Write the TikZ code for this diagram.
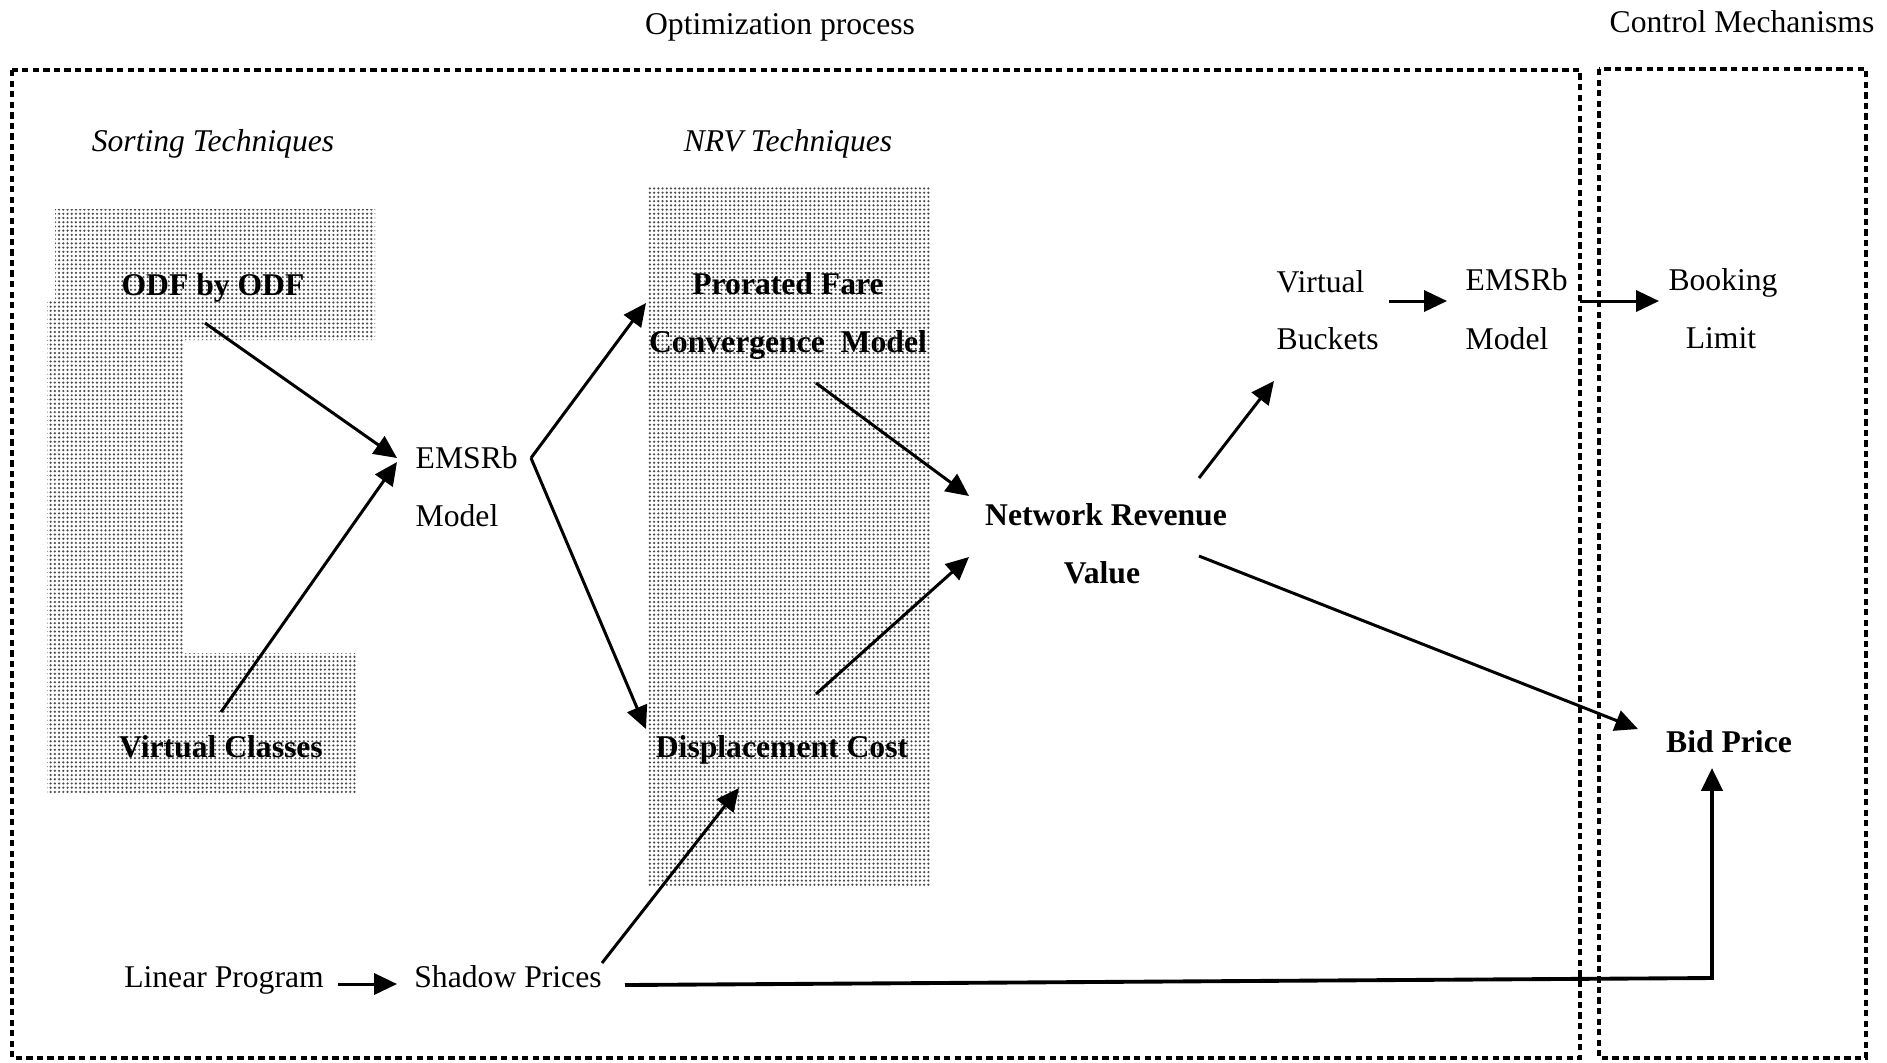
\documentclass[tikz,border=0pt]{standalone}
\usepackage{fontspec}
\setmainfont{Liberation Serif}
\usetikzlibrary{arrows.meta,patterns.meta}
\begin{document}
\begin{tikzpicture}[x=0.01cm,y=-0.01cm,
  lbl/.style={font=\fontsize{9}{11}\selectfont, inner sep=0pt, anchor=base},
  boldlbl/.style={lbl, font=\fontsize{9}{11}\selectfont\bfseries},
  itallbl/.style={lbl, font=\fontsize{9}{11}\selectfont\itshape},
  arr/.style={line width=0.85pt, -{Triangle[length=6.5pt,width=6pt]}},
  frameline/.style={line width=0.9pt, dash pattern=on 1.8pt off 1.2pt},
  stipple/.style={pattern={Dots[distance=1.2pt,radius=0.35pt]}, pattern color=black!70}]
\useasboundingbox (0,0) rectangle (1887,1062);

% stippled backgrounds
\fill[stipple] (55,209) -- (375,209) -- (375,340) -- (183,340) -- (183,653)
  -- (357,653) -- (357,794) -- (47,794) -- (47,300) -- (55,300) -- cycle;
\fill[stipple] (647,186) rectangle (930,886);

% frames
\draw[frameline] (12,70) rectangle (1580,1058);
\draw[frameline] (1599,69) rectangle (1866,1058);

% titles
\node[lbl] (opt) at (780,34) {Optimization process};
\node[lbl] (ctl) at (1742,32) {Control Mechanisms};
\node[itallbl] (sort) at (213,151) {Sorting Techniques};
\node[itallbl] (nrvt) at (788,151) {NRV Techniques};

% nodes
\node[boldlbl] (odf) at (213,295) {ODF by ODF};
\node[boldlbl] (vc) at (221,757) {Virtual Classes};
\node[lbl, anchor=base west] (emsrb1) at (415,468) {EMSRb};
\node[lbl, anchor=base west] (model1) at (415,526) {Model};
\node[boldlbl] (prorated) at (788,294) {Prorated Fare};
\node[boldlbl] (conv) at (788,352) {Convergence\ \ Model};
\node[boldlbl] (disp) at (782,757) {Displacement Cost};
\node[boldlbl] (nrv) at (1106,525) {Network Revenue};
\node[boldlbl] (value) at (1102,583) {Value};
\node[lbl, anchor=base west] (virtual) at (1276,292) {Virtual};
\node[lbl, anchor=base west] (buckets) at (1276,349) {Buckets};
\node[lbl, anchor=base west] (emsrb2) at (1465,290) {EMSRb};
\node[lbl, anchor=base west] (model2) at (1465,349) {Model};
\node[lbl] (booking) at (1723,290) {Booking};
\node[lbl] (limit) at (1721,348) {Limit};
\node[boldlbl] (bid) at (1729,752) {Bid Price};
\node[lbl] (lp) at (224,987) {Linear Program};
\node[lbl] (shadow) at (508,987) {Shadow Prices};

% connectors
\draw[arr] ([shift={(-8,28)}]odf.base) -- ([shift={(-18,-10)}]emsrb1.base west);
\draw[arr] ([shift={(0,-45)}]vc.base) -- ([shift={(-18,-6)}]emsrb1.base west);
\draw[arr] ([shift={(116,-10)}]emsrb1.base west) -- ([shift={(-142,9)}]prorated.base);
\draw[arr] ([shift={(116,-10)}]emsrb1.base west) -- ([shift={(-136,-28)}]disp.base);
\draw[arr] ([shift={(28,31)}]conv.base) -- ([shift={(-137,-29)}]nrv.base);
\draw[arr] ([shift={(34,-63)}]disp.base) -- ([shift={(-137,32)}]nrv.base);
\draw[arr] ([shift={(93,-47)}]nrv.base) -- ([shift={(-2,32)}]buckets.base west);
\draw[arr] ([shift={(93,31)}]nrv.base) -- ([shift={(-91,-23)}]bid.base);
\draw[arr] ([shift={(113,9)}]virtual.base west) -- ([shift={(-18,11)}]emsrb2.base west);
\draw[arr] ([shift={(115,11)}]emsrb2.base west) -- ([shift={(-64,11)}]booking.base);
\draw[arr] ([shift={(114,-3)}]lp.base) -- ([shift={(-111,-3)}]shadow.base);
\draw[arr] ([shift={(94,-24)}]shadow.base) -- ([shift={(-43,31)}]disp.base);
\draw[line width=1.1pt, -{Triangle[length=6.5pt,width=6pt]}]
  ([shift={(117,-2)}]shadow.base) -- ([shift={(-17,226)}]bid.base) -- ([shift={(-17,16)}]bid.base);
\end{tikzpicture}
\end{document}
